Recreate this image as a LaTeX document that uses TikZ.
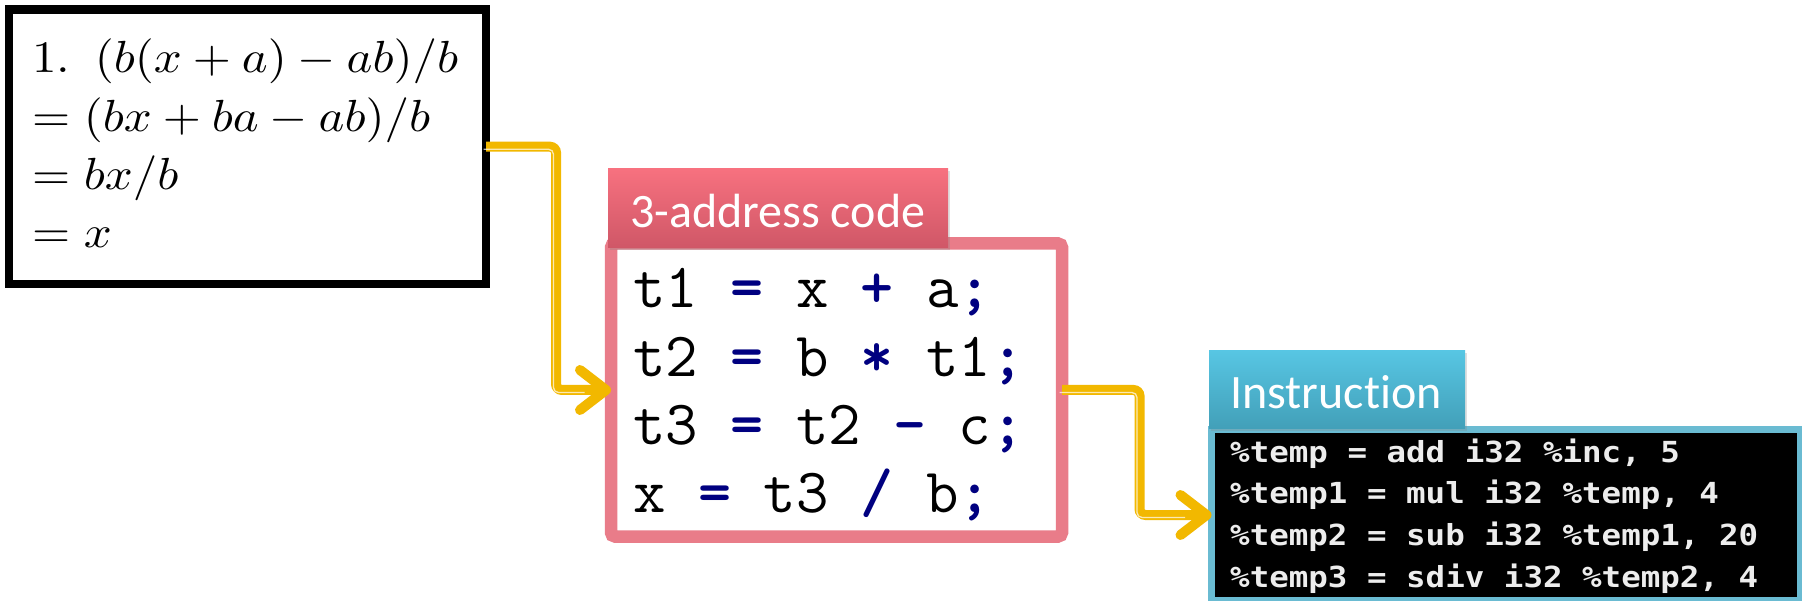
\documentclass[tikz,border=0pt]{standalone}
\usepackage{fontspec}
\usepackage{graphicx}
\usetikzlibrary{arrows.meta,shadows}

\newfontfamily\tabfont{Carlito}[Ligatures=NoCommon]
\newfontfamily\termfont{DejaVu Sans Mono}[FakeStretch=1.12]

\definecolor{flowyellow}{HTML}{F2B800}
\definecolor{pinkframe}{HTML}{E97C89}
\definecolor{pinktop}{HTML}{F7717F}
\definecolor{pinkbot}{HTML}{CF5767}
\definecolor{bluetop}{HTML}{57C6E3}
\definecolor{bluebot}{HTML}{429FB8}
\definecolor{blueframe}{HTML}{6ABBD2}
\definecolor{opnavy}{HTML}{000080}
\definecolor{termtext}{HTML}{EDEDED}

\newcommand\op[1]{\textcolor{opnavy}{\bfseries#1}}
\newcommand\bigmath[1]{\scalebox{4.9}[4.5]{\fontsize{10}{12}\selectfont #1}}

\tikzset{
  panel/.style={inner sep=0pt, outer sep=0pt},
  tab/.style={panel, minimum height=79, drop shadow={opacity=0.25, shadow xshift=2pt, shadow yshift=-2pt}},
  flow/.style={draw=flowyellow, line width=10pt, rounded corners=6pt,
    -{Straight Barb[length=26pt, width=40pt, round]}},
  shine/.style={draw=white, draw opacity=0.7, line width=1.3pt, rounded corners=5pt},
  mathline/.style={anchor=base west, inner sep=0pt},
  codeline/.style={anchor=base west, inner sep=0pt, font=\fontsize{63}{68}\selectfont\ttfamily},
  termline/.style={anchor=base west, inner sep=0pt, text=termtext, font=\fontsize{29}{34}\selectfont\termfont\bfseries},
  tablabel/.style={anchor=base west, inner sep=0pt, text=white, font=\fontsize{48}{56}\selectfont\tabfont},
}

\begin{document}
\begin{tikzpicture}[x=1pt, y=-1pt]
\path[use as bounding box, clip] (0,0) rectangle (1802,601);
\fill[white] (0,0) rectangle (1802,601);

% algebraic simplification
\node[panel, draw=black, line width=8.5pt, minimum width=477, minimum height=274.5] (alg) at (247.5,146.75) {};
\node[mathline] (m1) at (32,73) {\bigmath{1.\hspace{0.5em}$(b(x+a)-ab)/b$}};
\node[mathline] (m2) at (32,132) {\bigmath{$=(bx+ba-ab)/b$}};
\node[mathline] (m3) at (32,190) {\bigmath{$=bx/b$}};
\node[mathline] (m4) at (32,248) {\bigmath{$=x$}};

% three-address code
\node[panel, draw=pinkframe, line width=12.5pt, rounded corners=4pt, minimum width=451, minimum height=293] (tac) at (836.5,390) {};
\node[tab, top color=pinktop, bottom color=pinkbot, minimum width=340] (tactab) at (778,208.5) {};
\node[tablabel] (tactitle) at (630,228) {3-address code};
\node[codeline] (c1) at (633,308) {t1 \op{=} x \op{+} a\op{;}};
\node[codeline] (c2) at (633,377) {t2 \op{=} b \op{*} t1\op{;}};
\node[codeline] (c3) at (633,445) {t3 \op{=} t2 \op{-} c\op{;}};
\node[codeline] (c4) at (633,512) {x \op{=} t3 \op{/} b\op{;}};

% LLVM instructions
\node[panel, draw=blueframe, fill=black, line width=7pt, minimum width=589, minimum height=171] (ir) at (1506,515) {};
\node[tab, top color=bluetop, bottom color=bluebot, minimum width=256, minimum height=78] (irtab) at (1337,390) {};
\node[tablabel] (irtitle) at (1230,409) {Instruction};
\node[termline] (i1) at (1230,462) {\%temp = add i32 \%inc, 5};
\node[termline] (i2) at (1230,503) {\%temp1 = mul i32 \%temp, 4};
\node[termline] (i3) at (1230,545) {\%temp2 = sub i32 \%temp1, 20};
\node[termline] (i4) at (1230,587) {\%temp3 = sdiv i32 \%temp2, 4};

% connectors
\draw[flow] (alg.east) -| ([xshift=-55pt]tac.west) -- (tac.west);
\draw[shine, transform canvas={shift={(-2.5pt,-2.5pt)}}, shorten >=24pt]
  (alg.east) -| ([xshift=-55pt]tac.west) -- (tac.west);
\draw[flow] (tac.east) -| ([xshift=-72pt]ir.west) -- (ir.west);
\draw[shine, transform canvas={shift={(-2.5pt,-2.5pt)}}, shorten >=24pt]
  (tac.east) -| ([xshift=-72pt]ir.west) -- (ir.west);
\end{tikzpicture}
\end{document}
